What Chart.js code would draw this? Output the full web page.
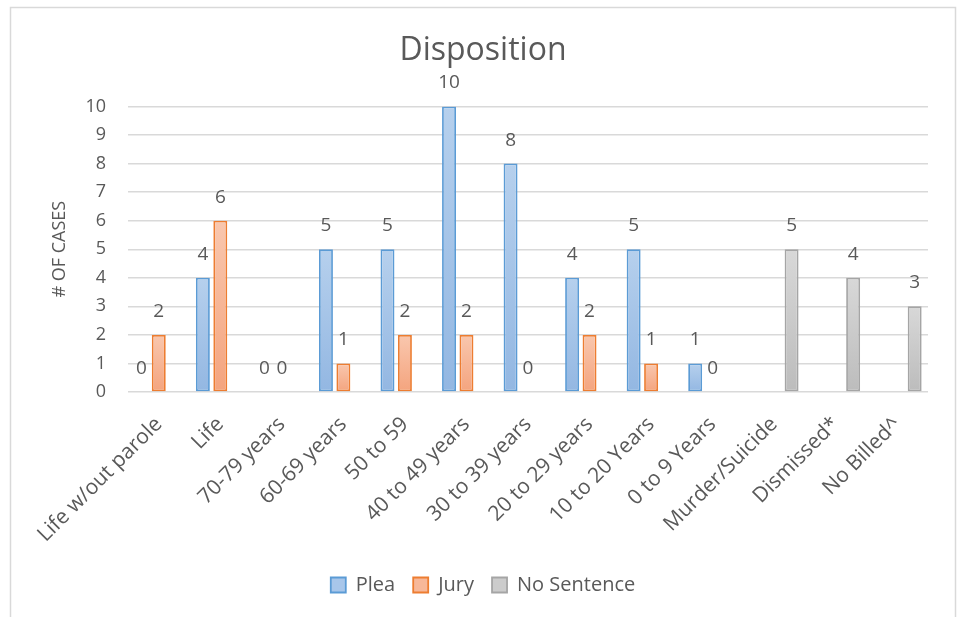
<!DOCTYPE html>
<html>
<head>
<meta charset="utf-8">
<script src="https://cdn.jsdelivr.net/npm/chart.js@4.4.1/dist/chart.umd.min.js"></script>
<style>
  html, body { margin: 0; padding: 0; background: #ffffff; }
  #wrap { position: relative; width: 957px; height: 617px; }
</style>
</head>
<body>
<div id="wrap"><canvas id="c" width="957" height="617"></canvas></div>
<script>
const categories = ["Life w/out parole", "Life", "70-79 years", "60-69 years", "50 to 59", "40 to 49 years", "30 to 39 years", "20 to 29 years", "10 to 20 Years", "0 to 9 Years", "Murder/Suicide", "Dismissed*", "No Billed^"];
const pleaValues = [0, 4, 0, 5, 5, 10, 8, 4, 5, 1, null, null, null];
const juryValues = [2, 6, 0, 1, 2, 2, 0, 2, 1, 0, null, null, null];
const noSentenceValues = [null, null, null, null, null, null, null, null, null, null, 5, 4, 3];
const yTicks = [0, 1, 2, 3, 4, 5, 6, 7, 8, 9, 10];

const FONT = "'Open Sans', 'Noto Sans', sans-serif";
const TEXT = '#595959';

function barGradient(top, bottom, solid) {
  return function (ctx) {
    const chart = ctx.chart;
    const v = ctx.raw;
    if (!chart.chartArea || v === null || v === undefined) return solid;
    const ys = chart.scales.y;
    const y0 = ys.getPixelForValue(v);
    const y1 = ys.getPixelForValue(0);
    if (Math.abs(y1 - y0) < 1) return solid;
    const g = chart.ctx.createLinearGradient(0, y0, 0, y1);
    g.addColorStop(0, top);
    g.addColorStop(1, bottom);
    return g;
  };
}

const frame = {
  id: 'frame',
  beforeDraw(chart) {
    const c = chart.ctx;
    c.save();
    c.fillStyle = '#ffffff';
    c.fillRect(0, 0, chart.width, chart.height);
    c.strokeStyle = '#d9d9d9';
    c.lineWidth = 1.5;
    c.strokeRect(10.5, 7.5, 945, 640);
    c.restore();
  }
};

const dataLabels = {
  id: 'dataLabels',
  afterDatasetsDraw(chart) {
    const c = chart.ctx;
    c.save();
    c.font = "19px " + FONT;
    c.fillStyle = TEXT;
    c.textAlign = 'center';
    c.textBaseline = 'alphabetic';
    chart.data.datasets.forEach((ds, i) => {
      const meta = chart.getDatasetMeta(i);
      meta.data.forEach((el, j) => {
        const v = ds.data[j];
        if (v === null || v === undefined) return;
        c.fillText(String(v), el.x, el.y - 18);
      });
    });
    c.restore();
  }
};

new Chart(document.getElementById('c'), {
  type: 'bar',
  data: {
    labels: categories,
    datasets: [
      {
        label: 'Plea',
        data: pleaValues,
        yAxisID: 'y',
        backgroundColor: barGradient('#b6d0ed', '#93b7e2', '#a8c6ea'),
        borderColor: '#5b9bd5',
        borderWidth: 1.8,
        borderSkipped: false
      },
      {
        label: 'Jury',
        data: juryValues,
        yAxisID: 'y',
        backgroundColor: barGradient('#f9c7ae', '#f4a47e', '#f7b899'),
        borderColor: '#ed7d31',
        borderWidth: 1.8,
        borderSkipped: false
      },
      {
        label: 'No Sentence',
        data: noSentenceValues,
        yAxisID: 'y',
        backgroundColor: barGradient('#d8d8d8', '#bcbcbc', '#cccccc'),
        borderColor: '#a5a5a5',
        borderWidth: 1.8,
        borderSkipped: false
      }
    ]
  },
  options: {
    responsive: false,
    animation: false,
    devicePixelRatio: 1,
    layout: { padding: { left: 20, right: 11, top: 0, bottom: 12 } },
    datasets: { bar: { categoryPercentage: 0.85, barPercentage: 0.8 } },
    plugins: {
      title: {
        display: true,
        text: 'Disposition',
        color: TEXT,
        font: { family: FONT, size: 32, weight: 'normal' },
        padding: { top: 32, bottom: 36 }
      },
      legend: {
        position: 'bottom',
        labels: {
          color: TEXT,
          font: { family: FONT, size: 20 },
          boxWidth: 15,
          boxHeight: 15,
          padding: 18,
          generateLabels(chart) {
            const items = Chart.defaults.plugins.legend.labels.generateLabels(chart);
            const fills = ['#a8c6ea', '#f7b899', '#cccccc'];
            items.forEach((it, i) => { it.fillStyle = fills[i]; it.lineWidth = 1.8; });
            return items;
          }
        }
      },
      tooltip: { enabled: false }
    },
    scales: {
      x: {
        grid: { display: false, drawTicks: false },
        border: { display: false },
        ticks: {
          color: TEXT,
          font: { family: FONT, size: 21 },
          maxRotation: 45,
          minRotation: 45,
          autoSkip: false,
          padding: 20
        },
        afterFit(scale) { scale.height = 165; }
      },
      y: {
        position: 'left',
        min: 0,
        max: 10,
        grid: { color: '#d9d9d9', lineWidth: 1.4, drawTicks: false },
        border: { display: false },
        afterBuildTicks(scale) { scale.ticks = yTicks.map(v => ({ value: v })); },
        ticks: {
          color: TEXT,
          font: { family: FONT, size: 18 },
          padding: 22
        },
        title: {
          display: true,
          text: '# OF CASES',
          color: TEXT,
          font: { family: FONT, size: 18 },
          padding: { top: 29, bottom: 0 }
        },
        afterFit(scale) { scale.width = 108; }
      },
      yRight: {
        position: 'right',
        display: true,
        min: 0,
        max: 10,
        grid: { display: false, drawTicks: false },
        border: { display: false },
        ticks: { display: false },
        afterFit(scale) { scale.width = 18; }
      }
    }
  },
  plugins: [frame, dataLabels]
});
</script>
</body>
</html>
